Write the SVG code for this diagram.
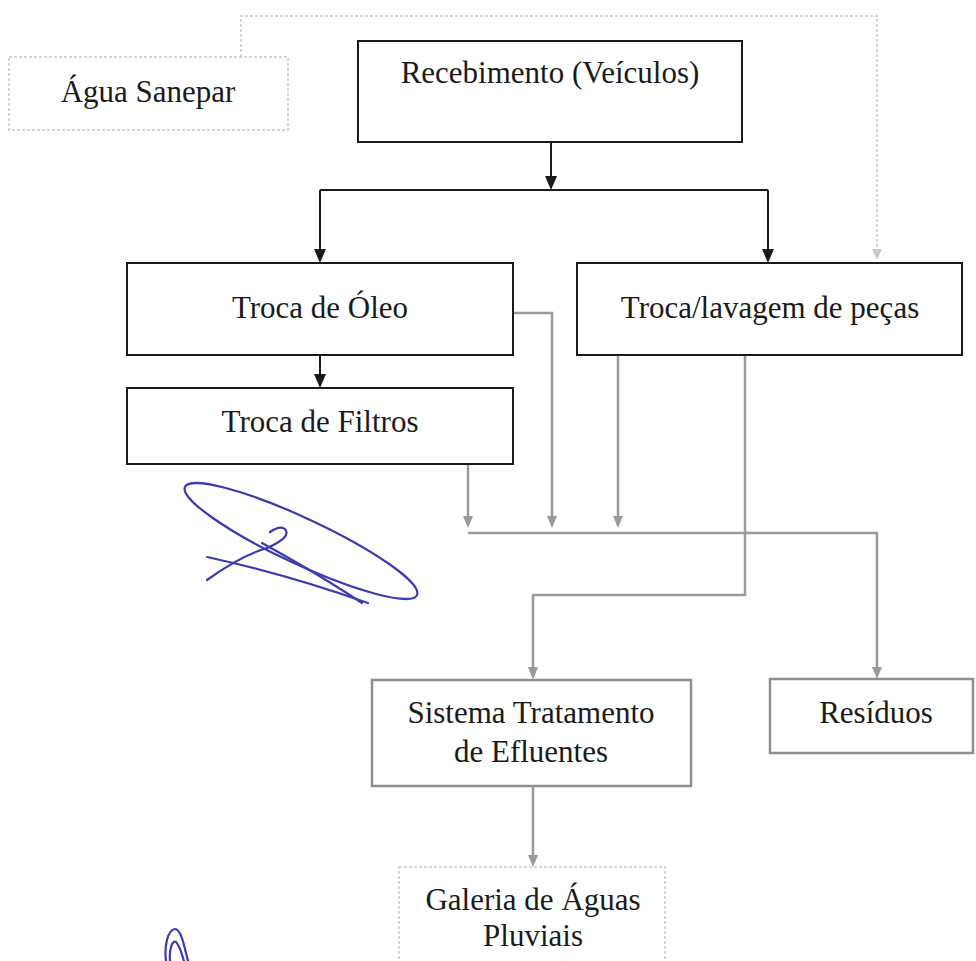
<svg xmlns="http://www.w3.org/2000/svg" width="976" height="961" viewBox="0 0 976 961">
<style>
text{font-family:"Liberation Serif","Times New Roman",serif;font-size:31px;fill:#1a1a1a;text-anchor:middle}
.bk{fill:#fff;stroke:#1a1a1a;stroke-width:2}
.gr{fill:#fff;stroke:#8f8f8f;stroke-width:2.5}
.lt{fill:#fff;stroke:#c8c8c8;stroke-width:1.5;stroke-dasharray:3 2}
.cb{fill:none;stroke:#1a1a1a;stroke-width:2}
.cg{fill:none;stroke:#9a9a9a;stroke-width:2.5}
.cl{fill:none;stroke:#c8c8c8;stroke-width:1.5;stroke-dasharray:3 2}
.sig{fill:none;stroke:#3b3bb0;stroke-width:2.2;stroke-linecap:round}
</style>
<rect width="976" height="961" fill="#fff"/>
<g id="connectors">
<path class="cl" d="M241,57 V16 H877 V252"/>
<path d="M872,249 L882,249 L877,260 Z" fill="#c8c8c8"/>
<path class="cb" d="M551,142 V178"/>
<path d="M545,176 L557,176 L551,190 Z" fill="#1a1a1a"/>
<path class="cb" d="M320,190 H768 M320,190 V250 M768,190 V250"/>
<path d="M314,249 L326,249 L320,263 Z M762,249 L774,249 L768,263 Z" fill="#1a1a1a"/>
<path class="cb" d="M320,355 V375"/>
<path d="M314,374 L326,374 L320,388 Z" fill="#1a1a1a"/>
<path class="cg" d="M468,464 V518 M513,313 H552 V518 M618,355 V518 M745,355 V595 H533 V668 M468,533 H877 V668 M533,786 V856"/>
<path d="M463,516 L473,516 L468,528 Z M547,516 L557,516 L552,528 Z M613,516 L623,516 L618,528 Z M528,667 L538,667 L533,680 Z M872,667 L882,667 L877,679 Z M528,855 L538,855 L533,867 Z" fill="#9a9a9a"/>
</g>
<g id="agua"><rect class="lt" x="9" y="57" width="279" height="73"/><text x="148" y="102">Água Sanepar</text></g>
<g id="recebimento"><rect class="bk" x="358" y="41" width="384" height="101"/><text x="550" y="83">Recebimento (Veículos)</text></g>
<g id="oleo"><rect class="bk" x="127" y="263" width="386" height="92"/><text x="320" y="318">Troca de Óleo</text></g>
<g id="pecas"><rect class="bk" x="577" y="263" width="385" height="92"/><text x="770" y="318">Troca/lavagem de peças</text></g>
<g id="filtros"><rect class="bk" x="127" y="388" width="386" height="76"/><text x="320" y="432">Troca de Filtros</text></g>
<g id="sistema"><rect class="gr" x="372" y="680" width="319" height="106"/><text x="531" y="723">Sistema Tratamento</text><text x="531" y="762">de Efluentes</text></g>
<g id="residuos"><rect class="gr" x="770" y="679" width="203" height="74"/><text x="876" y="723">Resíduos</text></g>
<g id="galeria"><rect class="lt" x="399" y="867" width="266" height="100"/><text x="533" y="910">Galeria de Águas</text><text x="533" y="946">Pluviais</text></g>
<g id="signature">
<ellipse class="sig" cx="301" cy="541" rx="128" ry="23" transform="rotate(25 301 541)"/>
<path class="sig" d="M207,580 Q240,556 267,548 Q292,537 285,529 Q280,525 270,532"/>
<path class="sig" d="M207,557 Q285,574 368,603"/>
<path class="sig" d="M262,543 Q320,575 362,603"/>
<path class="sig" d="M166,961 C164,945 168,930 175,929 C181,929 184,945 188,961 M170,961 C169,950 172,940 176,942 C180,946 182,955 184,961"/>
</g>
</svg>
